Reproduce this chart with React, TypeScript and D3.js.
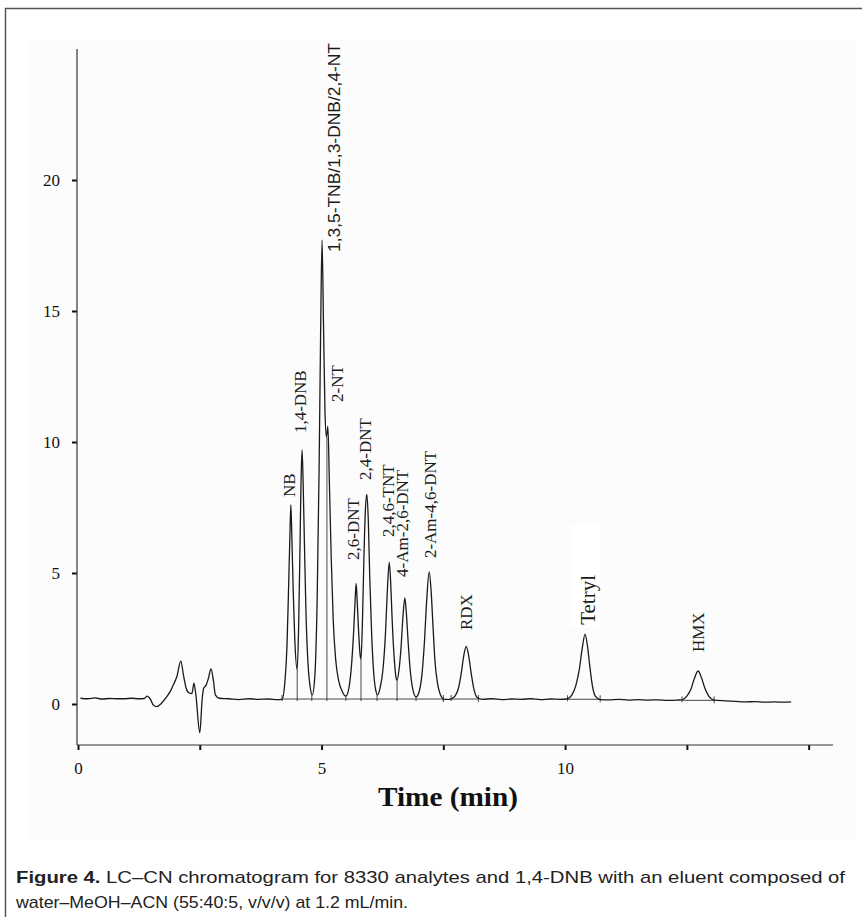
import * as d3 from 'd3'
import { useEffect, useRef } from 'react'

// chromatogram trace: [time (min), response]
const trace: [number, number][] = [
  [0.05, 0.22], [0.2, 0.2], [0.35, 0.23], [0.5, 0.19], [0.65, 0.21], [0.8, 0.2], [0.95, 0.2],
  [1.1, 0.22], [1.25, 0.2], [1.36, 0.21], [1.42, 0.3], [1.48, 0.2], [1.55, -0.05], [1.62, -0.1],
  [1.7, 0.0], [1.8, 0.22], [1.9, 0.5], [1.97, 0.78], [2.03, 1.05], [2.11, 1.64], [2.17, 1.05],
  [2.22, 0.6], [2.28, 0.42], [2.34, 0.4], [2.38, 0.8], [2.42, 0.35], [2.5, -1.1], [2.55, 0.2],
  [2.58, 0.6], [2.63, 0.72], [2.68, 1.0], [2.73, 1.34], [2.78, 0.9], [2.82, 0.35], [2.9, 0.22],
  [3.1, 0.2], [3.3, 0.17], [3.5, 0.2], [3.7, 0.18], [3.9, 0.19], [4.1, 0.17], [4.19, 0.19],
  // NB, 1,4-DNB
  [4.25, 0.9], [4.29, 2.2], [4.32, 4.2], [4.35, 6.4], [4.37, 7.6], [4.39, 6.4], [4.42, 4.2],
  [4.45, 2.5], [4.5, 1.3], [4.53, 3.0], [4.56, 6.3], [4.58, 8.6], [4.6, 9.7], [4.62, 8.6],
  [4.65, 6.0], [4.68, 3.5], [4.72, 1.6], [4.77, 0.6], [4.81, 0.35],
  // TNB group + 2-NT
  [4.86, 1.0], [4.91, 4.0], [4.95, 9.0], [4.98, 14.0], [5.01, 17.7], [5.04, 14.5], [5.07, 11.2],
  [5.1, 10.2], [5.13, 10.6], [5.16, 8.5], [5.2, 5.5], [5.24, 3.2], [5.29, 1.7], [5.35, 0.9],
  [5.42, 0.5], [5.5, 0.3],
  // 2,6-DNT, 2,4-DNT
  [5.57, 0.7], [5.62, 1.6], [5.66, 2.8], [5.69, 4.0], [5.71, 4.6], [5.73, 4.0], [5.76, 2.8],
  [5.79, 1.9], [5.81, 1.7], [5.84, 3.2], [5.87, 5.6], [5.9, 7.4], [5.93, 8.0], [5.96, 7.0],
  [5.99, 4.8], [6.03, 2.6], [6.07, 1.2], [6.11, 0.55], [6.15, 0.35],
  // TNT, 4-Am, 2-Am
  [6.2, 0.6], [6.26, 1.3], [6.31, 2.6], [6.35, 4.3], [6.39, 5.4], [6.42, 4.6], [6.45, 3.2],
  [6.49, 1.8], [6.53, 1.0], [6.55, 0.9], [6.59, 1.3], [6.63, 2.1], [6.67, 3.3], [6.71, 4.05],
  [6.74, 3.5], [6.78, 2.3], [6.82, 1.3], [6.87, 0.6], [6.94, 0.27], [7.0, 0.45], [7.06, 1.1],
  [7.11, 2.3], [7.16, 4.0], [7.21, 5.04], [7.25, 4.3], [7.29, 2.9], [7.33, 1.6], [7.38, 0.8],
  [7.44, 0.35], [7.5, 0.2], [7.58, 0.18], [7.66, 0.2],
  // RDX
  [7.74, 0.3], [7.81, 0.6], [7.87, 1.2], [7.92, 1.85], [7.97, 2.2], [8.02, 1.85], [8.07, 1.2],
  [8.13, 0.55], [8.2, 0.24], [8.3, 0.18], [8.5, 0.2], [8.7, 0.17], [8.9, 0.19], [9.1, 0.18],
  [9.3, 0.2], [9.5, 0.17], [9.7, 0.19], [9.9, 0.18], [10.05, 0.2],
  // Tetryl
  [10.14, 0.35], [10.22, 0.7], [10.29, 1.3], [10.35, 2.1], [10.41, 2.67], [10.46, 2.2],
  [10.51, 1.4], [10.56, 0.7], [10.62, 0.3], [10.72, 0.17], [10.9, 0.16], [11.1, 0.18],
  [11.3, 0.15], [11.5, 0.17], [11.7, 0.15], [11.9, 0.16], [12.1, 0.14], [12.3, 0.15], [12.4, 0.16],
  // HMX
  [12.5, 0.3], [12.58, 0.55], [12.65, 0.95], [12.73, 1.26], [12.8, 1.0], [12.87, 0.6],
  [12.95, 0.3], [13.05, 0.15], [13.3, 0.12], [13.5, 0.1], [13.7, 0.08], [13.9, 0.09],
  [14.1, 0.07], [14.3, 0.08], [14.5, 0.07], [14.64, 0.08]
]

// integration baselines [start, end, level] and drop lines [time, valley]
const baselines: [number, number, number][] = [
  [4.19, 7.5, 0.19],
  [7.66, 8.22, 0.19],
  [10.05, 10.72, 0.18],
  [12.4, 13.06, 0.14]
]
const dropLines: [number, number][] = [
  [4.5, 1.3], [4.8, 0.35], [5.11, 10.2], [5.5, 0.3], [5.81, 1.7],
  [6.14, 0.35], [6.55, 0.9], [6.94, 0.27], [7.5, 0.2]
]

// peak labels: name, time of label, response where the label starts
const peakNames = ['NB', '1,4-DNB', '1,3,5-TNB/1,3-DNB/2,4-NT', '2-NT', '2,6-DNT', '2,4-DNT',
  '2,4,6-TNT', '4-Am-2,6-DNT', '2-Am-4,6-DNT', 'RDX', 'Tetryl', 'HMX']
const peakLabelTimes = [4.35, 4.56, 5.28, 5.32, 5.65, 5.89, 6.37, 6.65, 7.23, 7.97, 10.47, 12.73]
const peakLabelLevels = [7.9, 10.34, 17.25, 11.53, 5.5, 8.55, 6.37, 4.85, 5.57, 2.82, 3.02, 1.98]

const yTicks = [0, 5, 10, 15, 20]
const xTicks = [0, 2.5, 5, 7.5, 10, 12.5, 15]
const xTickLabels = [0, 5, 10]

const W = 862
const H = 917
const serif = "'Liberation Serif', 'Times New Roman', serif"
const sans = "'Liberation Sans', Arial, sans-serif"

export default function App() {
  const ref = useRef<SVGSVGElement>(null)

  useEffect(() => {
    const svg = d3.select(ref.current)
    svg.selectAll('*').remove()

    const x = d3.scaleLinear().domain([0, 15.5]).range([78, 833])
    const y = d3.scaleLinear().domain([-1.565, 25]).range([745, 49])

    // frame + photo background
    svg.append('rect').attr('x', 0).attr('y', 0).attr('width', W).attr('height', H).attr('fill', '#fff')
    svg.append('rect').attr('x', 27).attr('y', 40).attr('width', 828).attr('height', 800).attr('fill', '#fcfcfc')
    svg.append('path')
      .attr('d', `M5.5,${H} V8.5 H${W}`)
      .attr('fill', 'none').attr('stroke', '#555').attr('stroke-width', 1.5)

    // axes
    const yAxis = d3.axisLeft(y).tickValues(yTicks).tickSize(5).tickPadding(12)
    const gy = svg.append('g').attr('transform', `translate(${x(0) - 1},0)`).call(yAxis)
    gy.select('.domain').remove()
    gy.selectAll('.tick line').attr('stroke', '#111').attr('stroke-width', 2)
    gy.selectAll('.tick text').attr('font-family', serif).attr('font-size', 17).attr('fill', '#111')
    svg.append('line')
      .attr('x1', x(0) - 1).attr('x2', x(0) - 1).attr('y1', y.range()[1]).attr('y2', y.range()[0])
      .attr('stroke', '#333').attr('stroke-width', 1.2)

    const xAxis = d3.axisBottom(x).tickValues(xTicks).tickSize(5).tickPadding(12)
      .tickFormat((d) => (xTickLabels.includes(+d) ? String(d) : ''))
    const gx = svg.append('g').attr('transform', `translate(0,${y.range()[0]})`).call(xAxis)
    gx.select('.domain').remove()
    gx.selectAll('.tick line').attr('stroke', '#111').attr('stroke-width', 2)
    gx.selectAll('.tick text').attr('font-family', serif).attr('font-size', 17).attr('fill', '#111')
    svg.append('line')
      .attr('x1', x(0) - 1).attr('x2', x(15.5)).attr('y1', y.range()[0]).attr('y2', y.range()[0])
      .attr('stroke', '#333').attr('stroke-width', 1.2)

    // integration marks
    const marks = svg.append('g').attr('stroke', '#333').attr('stroke-width', 0.9).attr('fill', 'none')
    baselines.forEach(([a, b, v]) => {
      marks.append('line').attr('x1', x(a)).attr('x2', x(b)).attr('y1', y(v)).attr('y2', y(v))
      marks.append('line').attr('x1', x(a)).attr('x2', x(a)).attr('y1', y(v) - 4).attr('y2', y(v) + 2)
      marks.append('line').attr('x1', x(b)).attr('x2', x(b)).attr('y1', y(v) - 4).attr('y2', y(v) + 3)
    })
    const base = baselines[0][2]
    dropLines.forEach(([t, v]) => {
      marks.append('line').attr('x1', x(t)).attr('x2', x(t)).attr('y1', y(base) + 2).attr('y2', y(v))
    })

    // trace
    const line = d3.line<[number, number]>()
      .x((d) => x(d[0]))
      .y((d) => y(d[1]))
      .curve(d3.curveMonotoneX)
    svg.append('path')
      .datum(trace)
      .attr('d', line)
      .attr('fill', 'none')
      .attr('stroke', '#1a1a1a')
      .attr('stroke-width', 1.3)
      .attr('stroke-linejoin', 'round')

    // peak labels (rotated)
    peakNames.forEach((name, i) => {
      const px = x(peakLabelTimes[i])
      const py = y(peakLabelLevels[i])
      const isTnb = i === 2
      const isTetryl = name === 'Tetryl'
      const size = isTetryl ? 21 : isTnb ? 16 : 17
      if (isTetryl) {
        svg.append('rect').attr('x', px - 17).attr('y', py - 100).attr('width', 30).attr('height', 102).attr('fill', '#fff')
      }
      const t = svg.append('text')
        .attr('transform', `translate(${px + size * 0.33},${py}) rotate(-90)`)
        .attr('font-family', isTnb ? sans : serif)
        .attr('font-size', size)
        .attr('fill', '#1a1a1a')
        .text(name)
      if (isTnb) t.attr('textLength', 209).attr('lengthAdjust', 'spacingAndGlyphs')
    })

    // axis title
    svg.append('text')
      .attr('x', 448).attr('y', 806)
      .attr('text-anchor', 'middle')
      .attr('font-family', serif)
      .attr('font-weight', 'bold')
      .attr('font-size', 27)
      .attr('textLength', 140)
      .attr('lengthAdjust', 'spacingAndGlyphs')
      .attr('fill', '#111')
      .text('Time (min)')

    // caption
    const cap1 = svg.append('text')
      .attr('x', 16).attr('y', 883)
      .attr('font-family', sans).attr('font-size', 17).attr('fill', '#222')
      .attr('textLength', 829).attr('lengthAdjust', 'spacingAndGlyphs')
    cap1.append('tspan').attr('font-weight', 'bold').text('Figure 4.')
    cap1.append('tspan').text(' LC–CN chromatogram for 8330 analytes and 1,4-DNB with an eluent composed of')
    svg.append('text')
      .attr('x', 16).attr('y', 908)
      .attr('font-family', sans).attr('font-size', 17).attr('fill', '#222')
      .attr('textLength', 392).attr('lengthAdjust', 'spacingAndGlyphs')
      .text('water–MeOH–ACN (55:40:5, v/v/v) at 1.2 mL/min.')
  }, [])

  return (
    <svg
      ref={ref}
      width={W}
      height={H}
      style={{ position: 'absolute', left: 0, top: 0 }}
    />
  )
}
